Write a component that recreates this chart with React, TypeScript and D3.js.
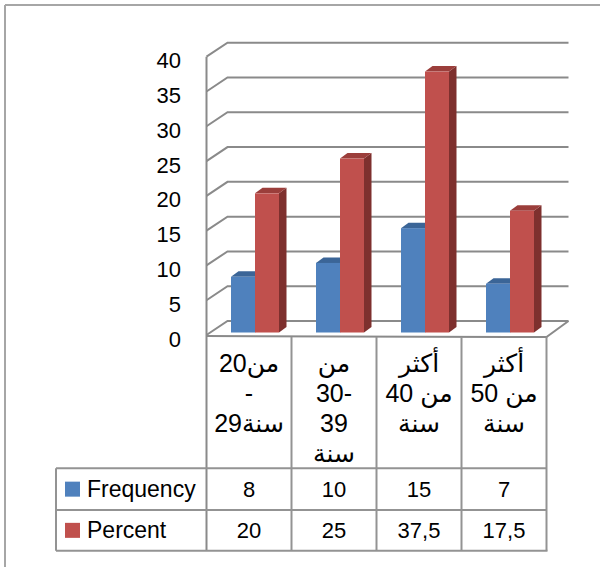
import React from "react";
import * as d3 from "d3";

const categories: string[][] = [
  ["من20", "-", "29سنة"],
  ["من", "30-", "39", "سنة"],
  ["أكثر", "من 40", "سنة"],
  ["أكثر", "من 50", "سنة"],
];
const seriesNames = ["Frequency", "Percent"];
const frequency = [8, 10, 15, 7];
const percent = [20, 25, 37.5, 17.5];
const frequencyLabels = ["8", "10", "15", "7"];
const percentLabels = ["20", "25", "37,5", "17,5"];
const yTicks = [0, 5, 10, 15, 20, 25, 30, 35, 40];

const colors = {
  front: ["#4F81BD", "#C0504D"],
  top: ["#3B6597", "#9B3E3B"],
  side: ["#345A87", "#7E302E"],
};

const FONT = "'Liberation Sans', 'DejaVu Sans', Arial, sans-serif";
const GRID = "#8a8a8a";
const TABLE = "#939393";

export default function App() {
  const W = 600;
  const H = 567;
  const x0 = 206.5;
  const x1 = 546.5;
  const depthX = 21;
  const depthY = -14;
  const barDX = 7.5;
  const barDY = -5.5;
  const barShift = 2.5;

  const y = d3.scaleLinear().domain([0, 40]).range([335, 56.7]);
  const xCat = d3
    .scaleBand<number>()
    .domain(d3.range(categories.length))
    .range([x0, x1]);
  const xSeries = d3
    .scaleBand<number>()
    .domain([0, 1])
    .range([24.5, 72.5]);

  const series = [frequency, percent];

  const rowTop = 337;
  const rowHead = 468.3;
  const rowFreq = 510;
  const rowPct = 550.7;
  const legendLeft = 56;

  return (
    <svg
      width={W}
      height={H}
      style={{ position: "absolute", left: 0, top: 0, background: "#fff" }}
      fontFamily={FONT}
    >
      {/* outer frame */}
      <line x1={5} y1={5} x2={W} y2={5} stroke="#a6a6a6" strokeWidth={2} />
      <line x1={5} y1={5} x2={5} y2={H} stroke="#a6a6a6" strokeWidth={2} />

      {/* gridlines */}
      {yTicks.map((t) => (
        <polyline
          key={"g" + t}
          points={`${x0},${y(t)} ${x0 + depthX},${y(t) + depthY} ${x1 + depthX + 1},${y(t) + depthY}`}
          fill="none"
          stroke={GRID}
          strokeWidth={2}
        />
      ))}
      {/* left wall vertical */}
      <line x1={x0} y1={y(40)} x2={x0} y2={rowPct} stroke={GRID} strokeWidth={2} />
      {/* floor front & right */}
      <polyline
        points={`${x0},${rowTop - 1} ${x1},${rowTop} ${x1 + depthX + 1},${y(0) + depthY}`}
        fill="none"
        stroke={GRID}
        strokeWidth={2}
      />

      {/* y tick labels */}
      {yTicks.map((t) => (
        <text
          key={"t" + t}
          x={181}
          y={y(t) + 4}
          textAnchor="end"
          dominantBaseline="central"
          fontSize={22}
          fill="#000"
        >
          {t}
        </text>
      ))}

      {/* bars */}
      {categories.map((_, i) =>
        series.map((vals, s) => {
          const bx = (xCat(i) as number) + (xSeries(s) as number);
          const bw = xSeries.bandwidth();
          const top = y(vals[i]) - barShift;
          const bottom = y(0) - barShift;
          return (
            <g key={`b${i}-${s}`}>
              <polygon
                points={`${bx + bw},${top} ${bx + bw + barDX},${top + barDY} ${bx + bw + barDX},${bottom + barDY} ${bx + bw},${bottom}`}
                fill={colors.side[s]}
              />
              <polygon
                points={`${bx},${top} ${bx + bw},${top} ${bx + bw + barDX},${top + barDY} ${bx + barDX},${top + barDY}`}
                fill={colors.top[s]}
              />
              <rect x={bx} y={top} width={bw} height={bottom - top} fill={colors.front[s]} />
            </g>
          );
        })
      )}

      {/* table lines */}
      <g stroke={TABLE} strokeWidth={2}>
        <line x1={legendLeft} y1={rowHead} x2={x1} y2={rowHead} />
        <line x1={legendLeft} y1={rowFreq} x2={x1} y2={rowFreq} />
        <line x1={legendLeft} y1={rowPct} x2={x1 + 1} y2={rowPct} />
        <line x1={legendLeft} y1={rowHead} x2={legendLeft} y2={rowPct} />
        {categories.map((_, i) => {
          const xx = (xCat(i) as number) + xCat.bandwidth();
          return <line key={"v" + i} x1={xx} y1={rowTop} x2={xx} y2={rowPct} />;
        })}
      </g>

      {/* category labels */}
      {categories.map((lines, i) => {
        const cx = (xCat(i) as number) + xCat.bandwidth() / 2;
        return (
          <text key={"c" + i} textAnchor="middle" fontSize={25} fill="#000">
            {lines.map((ln, j) => (
              <tspan key={j} x={cx} y={372 + j * 30}>
                {ln}
              </tspan>
            ))}
          </text>
        );
      })}

      {/* legend */}
      {seriesNames.map((nm, s) => {
        const rowMid = s === 0 ? (rowHead + rowFreq) / 2 : (rowFreq + rowPct) / 2;
        return (
          <g key={"l" + s}>
            <rect x={65} y={rowMid - 7.5} width={15} height={15} fill={colors.front[s]} />
            <text x={87} y={rowMid + 8} fontSize={23} fill="#000">
              {nm}
            </text>
          </g>
        );
      })}

      {/* values */}
      {[frequencyLabels, percentLabels].map((labels, s) => {
        const rowMid = s === 0 ? (rowHead + rowFreq) / 2 : (rowFreq + rowPct) / 2;
        return labels.map((lb, i) => (
          <text
            key={`v${s}-${i}`}
            x={(xCat(i) as number) + xCat.bandwidth() / 2}
            y={rowMid + 8}
            textAnchor="middle"
            fontSize={22}
            fill="#000"
          >
            {lb}
          </text>
        ));
      })}
    </svg>
  );
}
